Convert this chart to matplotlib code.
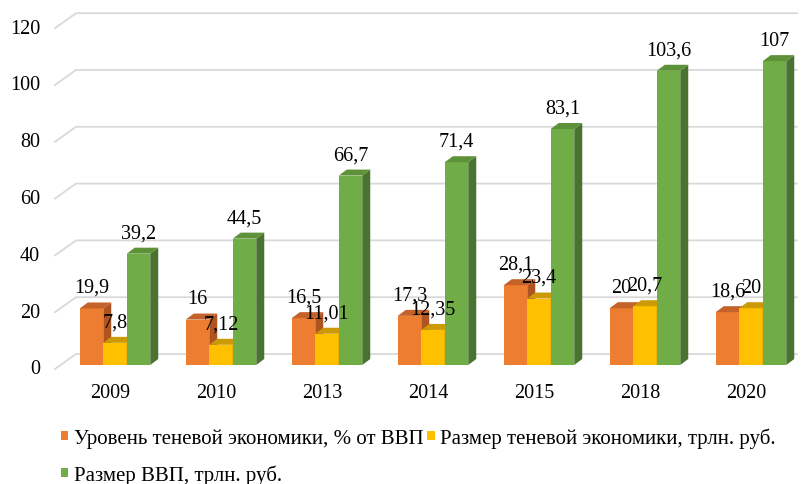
import matplotlib
matplotlib.use("Agg")
import matplotlib.pyplot as plt
from matplotlib.patches import Polygon, Patch
import numpy as np

years = ["2009", "2010", "2013", "2014", "2015", "2018", "2020"]
shadow_pct = [19.9, 16, 16.5, 17.3, 28.1, 20, 18.6]
shadow_trln = [7.8, 7.12, 11.01, 12.35, 23.4, 20.7, 20]
gdp_trln = [39.2, 44.5, 66.7, 71.4, 83.1, 103.6, 107]

pct_labels = ["19,9", "16", "16,5", "17,3", "28,1", "20", "18,6"]
shadow_labels = ["7,8", "7,12", "11,01", "12,35", "23,4", "20,7", "20"]
gdp_labels = ["39,2", "44,5", "66,7", "71,4", "83,1", "103,6", "107"]

series_names = [
    "Уровень теневой экономики, % от ВВП",
    "Размер теневой экономики, трлн. руб.",
    "Размер ВВП, трлн. руб.",
]
yticks = [0, 20, 40, 60, 80, 100, 120]

FRONT = ["#ED7D31", "#FFC000", "#70AD47"]
TOP = ["#C4622A", "#CC9A06", "#5E9239"]
SIDE = ["#AE5420", "#B88A00", "#4A7230"]
GRID = "#D9D9D9"
FONT = "Liberation Serif"
FS = 14.5
FS_LEG = 15

W, H = 806, 485
# pixel scale helpers: category spacing and value scale
PX_CAT = 106.0
PX_VAL = 2.84
X0_PX = 115.0
Y0_PX = 366.0


def dx(px):
    return px / PX_CAT


def dy(px):
    return px / PX_VAL


fig = plt.figure(figsize=(W / 100, H / 100), dpi=100)
ax = fig.add_axes([0, 0, 1, 1])
ax.set_xlim(-X0_PX / PX_CAT, (W - X0_PX) / PX_CAT)
ax.set_ylim((Y0_PX - H) / PX_VAL, Y0_PX / PX_VAL)
ax.axis("off")

# back wall gridlines with diagonal to front edge
x_front = dx(55 - X0_PX)
x_back = dx(76 - X0_PX)
x_end = dx(797 - X0_PX)
for v in yticks:
    yf = v - dy(4)
    yb = v + dy(11)
    ax.plot([x_front, x_back, x_end], [yf, yb, yb], color=GRID, lw=1.3, zorder=1,
            solid_joinstyle="miter")
    ax.text(dx(40 - X0_PX), yf, str(v), ha="right", va="center",
            fontsize=FS, family=FONT, color="#000000")

bw = dx(23.5)
ddx, ddy = dx(8), dy(6)
data = [shadow_pct, shadow_trln, gdp_trln]
labels = [pct_labels, shadow_labels, gdp_labels]

for i in range(len(years)):
    left0 = i - 1.5 * bw
    for j in range(3):
        v = data[j][i]
        x0 = left0 + j * bw
        x1 = x0 + bw
        ax.add_patch(Polygon([(x0, 0), (x1, 0), (x1, v), (x0, v)], closed=True,
                             facecolor=FRONT[j], edgecolor="none", zorder=2 + j))
        ax.add_patch(Polygon([(x1, 0), (x1 + ddx, ddy), (x1 + ddx, v + ddy), (x1, v)],
                             closed=True, facecolor=SIDE[j], edgecolor="none", zorder=2 + j))
        ax.add_patch(Polygon([(x0, v), (x1, v), (x1 + ddx, v + ddy), (x0 + ddx, v + ddy)],
                             closed=True, facecolor=TOP[j], edgecolor="none", zorder=2 + j))
        ax.annotate(labels[j][i], (x0 + bw / 2, v), xytext=(0, 21),
                    textcoords="offset pixels", ha="center", va="center",
                    fontsize=FS, family=FONT, zorder=10)
    ax.text(i - dx(5), dy(Y0_PX - 394), years[i], ha="center", va="center",
            fontsize=FS, family=FONT)

handles = [Patch(facecolor=FRONT[0]), Patch(facecolor=FRONT[2]), Patch(facecolor=FRONT[1])]
names = [series_names[0], series_names[2], series_names[1]]
fig.legend(handles, names, ncol=2, loc="upper left",
           bbox_to_anchor=(61 / W, 1 - 428.5 / H), frameon=False,
           prop={"family": FONT, "size": FS_LEG},
           handlelength=0.35, handleheight=0.35, handletextpad=0.25,
           columnspacing=0.2, labelspacing=0.79, borderpad=0, borderaxespad=0)

fig.savefig("out.png", dpi=100)
